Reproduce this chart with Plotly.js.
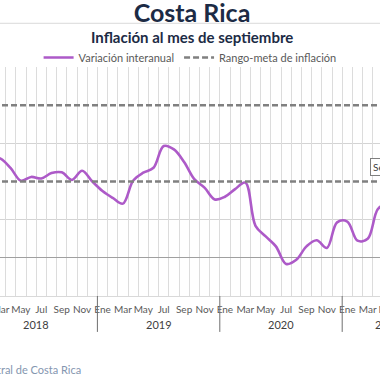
<!DOCTYPE html>
<html>
<head>
<meta charset="utf-8">
<script src="https://cdn.plot.ly/plotly-3.0.1.min.js"></script>
<style>
html,body{margin:0;padding:0;width:380px;height:380px;overflow:hidden;background:#fff;}
#chart{position:absolute;left:-58px;top:0;width:500px;height:380px;}
</style>
</head>
<body>
<div id="chart"></div>
<script>
// Data: monthly interannual inflation, Jan 2018 – Sep 2021
const years = [2018, 2019, 2020, 2021];
const monthNames = ["Ene","Feb","Mar","Abr","May","Jun","Jul","Ago","Sep","Oct","Nov","Dic"];
const inflacion = [
  2.55, 2.65, 2.60, 2.35, 2.02, 2.12, 2.08, 2.22, 2.24, 2.04, 2.28, 2.00,
  1.75, 1.57, 1.42, 2.02, 2.23, 2.36, 2.93, 2.84, 2.51, 2.06, 1.84, 1.53,
  1.60, 1.80, 1.97, 0.84, 0.56, 0.30, -0.16, -0.05, 0.30, 0.46, 0.26, 0.93,
  0.95, 0.45, 0.50, 1.28, 1.45, 1.60, 1.73, 1.90, 2.10
];
const rangoMeta = [2, 4];
const yTicks = [-1, 0, 1, 3, 5];
const etiquetaFinal = "Setiembre 2021: 2,1%";
const fuente = "Fuente: Banco Central de Costa Rica";

const n = inflacion.length;
const idx = inflacion.map((_, i) => i);
const monthLabel = idx.map(i => monthNames[i % 12]);
const evenIdx = idx.filter(i => i % 2 === 0);
const boundaries = [];
for (let i = 0; i < n - 1; i++) boundaries.push(i + 0.5);

const FONT = "Lato, 'Open Sans', sans-serif";
const NAVY = "#1c2b45";

const traces = [
  {
    x: idx, y: inflacion, type: "scatter", mode: "lines",
    name: "Variación interanual",
    line: {color: "#ad5ac8", width: 2.6, shape: "spline", smoothing: 1},
    hoverinfo: "skip"
  }
];
rangoMeta.forEach((v, k) => {
  traces.push({
    x: [-0.5, n - 0.5], y: [v, v], type: "scatter", mode: "lines",
    name: "Rango-meta de inflación", legendgroup: "meta", showlegend: k === 0,
    line: {color: "#808080", width: 2.5, dash: "6px,3px"},
    hoverinfo: "skip"
  });
});
// grid helper trace on xaxis2
traces.push({x: [boundaries[0]], y: [null], xaxis: "x2", showlegend: false, hoverinfo: "skip"});

const plotH = 380 - 66.5 - 84;
const pY = px => (296 - px) / plotH; // page y -> paper y
const plotW = 459;
const pX = px => (px + 25.1) / plotW; // page x -> paper x

const shapes = [];
// year separators
for (let k = 0; k <= years.length; k++) {
  const b = Math.min(-0.5 + 12 * k, n - 0.5);
  shapes.push({type: "line", xref: "x", yref: "paper", x0: b, x1: b, y0: 0, y1: pY(332),
    line: {color: "#6e6e6e", width: 1}});
}
// rule under title
shapes.push({type: "line", xref: "paper", yref: "paper", x0: -1, x1: 2, y0: pY(22.7), y1: pY(22.7),
  line: {color: "#d9d9d9", width: 1}});

const annotations = [];
years.forEach((yr, k) => {
  const first = 12 * k, last = Math.min(12 * k + 11, n - 1);
  annotations.push({xref: "x", yref: "paper", x: (first + last) / 2, y: pY(325),
    text: String(yr), showarrow: false, yanchor: "middle",
    font: {family: FONT, size: 11, color: "#404040"}});
});
annotations.push({xref: "paper", yref: "paper", x: pX(192), y: pY(36.5),
  text: "<b>Inflación al mes de septiembre</b>", showarrow: false, yanchor: "middle",
  font: {family: FONT, size: 15, color: NAVY}});
annotations.push({xref: "paper", yref: "paper", x: pX(83), y: pY(370), xanchor: "right",
  text: fuente, showarrow: false, yanchor: "middle",
  font: {family: FONT, size: 11, color: "#8496b0"}});
annotations.push({xref: "x", yref: "y", x: n - 1, y: inflacion[n - 1],
  xanchor: "left", yanchor: "bottom", xshift: -59, yshift: 2,
  text: etiquetaFinal, showarrow: false,
  bordercolor: "#7f7f7f", borderwidth: 1, borderpad: 2, bgcolor: "#ffffff",
  font: {family: FONT, size: 10, color: "#404040"}});

const layout = {
  width: 500, height: 380,
  margin: {l: 33, r: 8, t: 66.5, b: 84},
  paper_bgcolor: "#ffffff", plot_bgcolor: "#ffffff",
  font: {family: FONT, color: "#595959"},
  title: {text: "<b>Costa Rica</b>", xref: "container", x: 0.5, yref: "container",
    y: 1 - 13.5 / 380, yanchor: "middle", font: {family: FONT, size: 25, color: NAVY}},
  showlegend: true,
  legend: {orientation: "h", xref: "paper", yref: "paper", x: pX(190), xanchor: "center",
    y: pY(57), yanchor: "middle", font: {family: FONT, size: 11, color: "#595959"},
    itemwidth: 30, tracegroupgap: 0, bgcolor: "rgba(0,0,0,0)"},
  xaxis: {range: [-0.5, n - 0.5], tickmode: "array", tickvals: evenIdx,
    ticktext: evenIdx.map(i => monthLabel[i]), tickangle: 0, ticklabelstandoff: 4,
    showgrid: false, zeroline: false,
    showline: true, linecolor: "#d9d9d9", ticks: "", tickfont: {family: FONT, size: 10, color: "#595959"}},
  xaxis2: {overlaying: "x", matches: "x", range: [-0.5, n - 0.5], tickmode: "array", tickvals: boundaries,
    showgrid: true, gridcolor: "#dcdcdc", gridwidth: 1, showticklabels: false, ticks: "", zeroline: false},
  yaxis: {range: [-1, 5], tickmode: "array", tickvals: yTicks, showgrid: true, gridcolor: "#d4d4d4",
    zeroline: true, zerolinecolor: "#a0a0a0", zerolinewidth: 1, showline: false, ticks: "",
    tickfont: {family: FONT, size: 10, color: "#595959"}},
  shapes: shapes,
  annotations: annotations
};

Plotly.newPlot("chart", traces, layout, {displayModeBar: false, staticPlot: true});
</script>
</body>
</html>
